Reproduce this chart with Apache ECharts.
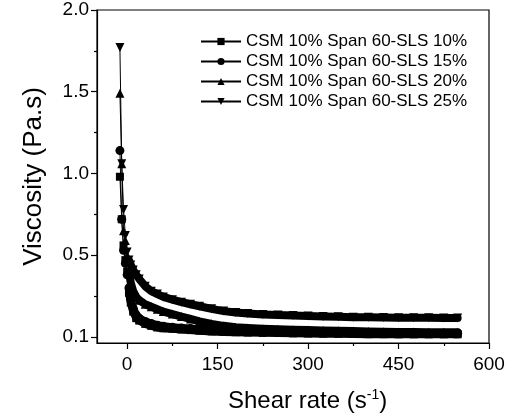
<!DOCTYPE html>
<html>
<head>
<meta charset="utf-8">
<script src="https://cdn.jsdelivr.net/npm/echarts@6/dist/echarts.min.js"></script>
<style>
    html, body {margin: 0; padding: 0; background: #fff;}
    #chart {width: 517px; height: 419px;}
</style>
</head>
<body>
<div id="chart"></div>
<script>
// shear rate (s-1), shared by all curves
var shearRate = [-12, -9, -6, -3, 0, 3, 6, 10, 15, 20, 30, 40, 50, 60, 75, 90, 105, 120, 140, 160,
    180, 200, 225, 250, 275, 300, 325, 350, 375, 400, 425, 450, 475, 500, 525, 548];

// viscosity (Pa.s)
var sls10 = [0.98, 0.72, 0.56, 0.47, 0.40, 0.27, 0.21, 0.155, 0.115, 0.10, 0.08, 0.068, 0.058, 0.053, 0.05, 0.046, 0.042, 0.038, 0.034, 0.031,
    0.029, 0.027, 0.025, 0.024, 0.022, 0.021, 0.02, 0.019, 0.018, 0.017, 0.017, 0.016, 0.016, 0.016, 0.016, 0.016];
var sls15 = [1.14, 0.72, 0.53, 0.45, 0.38, 0.30, 0.23, 0.175, 0.135, 0.115, 0.095, 0.082, 0.072, 0.066, 0.06, 0.055, 0.051, 0.047, 0.043, 0.04,
    0.038, 0.036, 0.034, 0.032, 0.03, 0.029, 0.028, 0.027, 0.026, 0.025, 0.024, 0.023, 0.023, 0.022, 0.022, 0.022];
var sls20 = [1.49, 1.06, 0.65, 0.59, 0.50, 0.40, 0.33, 0.28, 0.245, 0.225, 0.20, 0.185, 0.17, 0.155, 0.14, 0.125, 0.11, 0.095, 0.08, 0.068,
    0.06, 0.055, 0.05, 0.047, 0.044, 0.042, 0.04, 0.038, 0.036, 0.034, 0.032, 0.03, 0.03, 0.029, 0.028, 0.028];
var sls25 = [1.77, 1.06, 0.78, 0.62, 0.52, 0.47, 0.44, 0.41, 0.38, 0.355, 0.31, 0.28, 0.262, 0.245, 0.228, 0.213, 0.2, 0.188, 0.172, 0.158,
    0.149, 0.143, 0.138, 0.134, 0.131, 0.128, 0.125, 0.123, 0.121, 0.12, 0.119, 0.118, 0.117, 0.117, 0.116, 0.116];

var seriesNames = ['CSM 10% Span 60-SLS 10%', 'CSM 10% Span 60-SLS 15%', 'CSM 10% Span 60-SLS 20%', 'CSM 10% Span 60-SLS 25%'];
var symbols = ['rect', 'circle', 'triangle', 'triangle'];
var rotations = [0, 0, 0, 180];

var xLabelTicks = [0, 150, 300, 450, 600];
var xMinorTicks = [75, 225, 375, 525];
var yLabelTicks = [0, 0.5, 1.0, 1.5, 2.0];
var yMinorTicks = [0.25, 0.75, 1.25, 1.75];

var font = 'Liberation Sans, Arial, sans-serif';
var bandStart = 5; // from here on the markers merge into a solid band

function pairs(values) {
    return shearRate.map(function (x, i) {
        return [x, values[i]];
    });
}

var curves = [sls10, sls15, sls20, sls25];
var series = [];

// 粗线画出密集的点带
curves.forEach(function (values) {
    series.push({
        type: 'line',
        silent: true,
        showSymbol: false,
        symbol: 'none',
        z: 1,
        lineStyle: {color: '#000', width: 8, cap: 'round', join: 'round'},
        data: pairs(values).slice(bandStart)
    });
});

curves.forEach(function (values, i) {
    series.push({
        name: seriesNames[i],
        type: 'line',
        symbol: symbols[i],
        symbolRotate: rotations[i],
        symbolSize: i === 0 ? 8 : 9,
        z: 2,
        itemStyle: {color: '#000'},
        lineStyle: {color: '#000', width: 1},
        data: pairs(values)
    });
});

var tickStyle = {show: true, inside: false, length: 6, lineStyle: {color: '#000', width: 1.2}};

var myChart = echarts.init(document.getElementById('chart'));
var option = {
    animation: false,
    backgroundColor: '#fff',
    grid: {left: 97, right: 28, top: 10, bottom: 76, show: true, borderColor: '#000', borderWidth: 1.2},
    legend: {
        data: seriesNames,
        orient: 'vertical',
        left: 200,
        top: 33,
        padding: 0,
        itemWidth: 40,
        itemHeight: 9,
        itemGap: 3,
        textStyle: {fontFamily: font, fontSize: 17, color: '#000'}
    },
    xAxis: [{
        type: 'value',
        min: -50,
        max: 600,
        axisLine: {show: true, onZero: false, lineStyle: {color: '#000', width: 1.2}},
        axisTick: Object.assign({customValues: xLabelTicks}, tickStyle),
        axisLabel: {customValues: xLabelTicks, margin: 12, fontFamily: font, fontSize: 19, color: '#000'},
        splitLine: {show: false}
    }, {
        type: 'value',
        position: 'bottom',
        min: -50,
        max: 600,
        axisLine: {show: false, onZero: false},
        axisTick: {show: true, customValues: xMinorTicks, length: 3, lineStyle: {color: '#000', width: 1.2}},
        axisLabel: {show: false},
        splitLine: {show: false}
    }],
    yAxis: [{
        type: 'value',
        min: -0.037,
        max: 2.0,
        name: 'Viscosity (Pa.s)',
        nameLocation: 'middle',
        nameGap: 50,
        nameTextStyle: {fontFamily: font, fontSize: 26, color: '#000'},
        axisLine: {show: true, onZero: false, lineStyle: {color: '#000', width: 1.2}},
        axisTick: Object.assign({customValues: yLabelTicks}, tickStyle),
        axisLabel: {
            customValues: yLabelTicks,
            margin: 8,
            fontFamily: font,
            fontSize: 19,
            color: '#000',
            formatter: function (v) {
                return v === 0 ? '0.1' : v.toFixed(1);
            }
        },
        splitLine: {show: false}
    }, {
        type: 'value',
        position: 'left',
        min: -0.037,
        max: 2.0,
        axisLine: {show: false, onZero: false},
        axisTick: {show: true, customValues: yMinorTicks, length: 3, lineStyle: {color: '#000', width: 1.2}},
        axisLabel: {show: false},
        splitLine: {show: false}
    }],
    graphic: [{
        type: 'text',
        left: 228,
        top: 388,
        style: {
            text: 'Shear rate (s{sup|-1})',
            fontFamily: font,
            fontSize: 24,
            fill: '#000',
            rich: {
                sup: {fontFamily: font, fontSize: 14, fill: '#000', padding: [0, 0, 12, 0]}
            }
        }
    }],
    series: series
};
myChart.setOption(option);
</script>
</body>
</html>
